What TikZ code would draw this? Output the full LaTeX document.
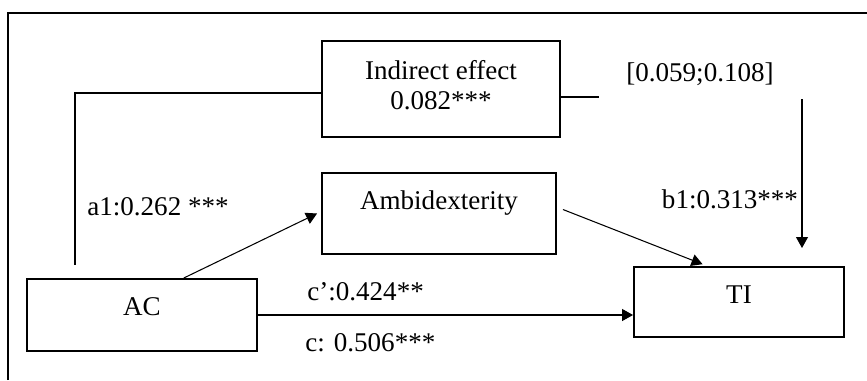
\documentclass[tikz,border=0pt]{standalone}
\usepackage{fontspec}
\setmainfont{Liberation Serif}
\usetikzlibrary{arrows.meta, calc}

\begin{document}
\begin{tikzpicture}[x=0.02cm,y=-0.02cm,
  every node/.style={font=\fontsize{15.4}{17}\selectfont},
  box/.style={draw,line width=1.1pt,inner sep=0pt},
  link/.style={line width=0.6pt,-{Triangle[length=0.22cm,width=0.24cm]}},
  plain/.style={line width=0.6pt}]
  \useasboundingbox (0,0) rectangle (867,380);
  \draw[line width=1.2pt] (8,380) -- (8,13) -- (867,13);
  \path (441,89) node[box,minimum width=4.76cm,minimum height=1.92cm,
    label={[align=center,yshift=0.08cm]center:Indirect effect\\0.082***}] (ind) {}
  (439,213.5) node[box,minimum width=4.68cm,minimum height=1.62cm,
    label={[yshift=0.2cm]center:Ambidexterity}] (ambi) {}
  (142,315) node[box,minimum width=4.6cm,minimum height=1.44cm,
    label={[yshift=0.16cm]center:AC}] (ac) {}
  (739,302) node[box,minimum width=4.2cm,minimum height=1.4cm,
    label={[yshift=0.14cm]center:TI}] (ti) {};
  \path (87,207) node[anchor=west,inner sep=0pt] (a1) {a1:0.262 ***}
  (700,74) node[inner sep=0pt] (ci) {[0.059;0.108]}
  (730,199) node[inner sep=0pt] (b1) {b1:0.313***}
  (307,292) node[anchor=west,inner sep=0pt] (cp) {c’:0.424**}
  (305,343) node[anchor=west,inner sep=0pt] (c) {c: 0.506***};
  \coordinate (aend) at (75,265);
  \coordinate (ciend) at (599,97);
  \coordinate (btop) at (802,99);
  \coordinate (btip) at (802,248);
  % indirect path
  \draw[plain] ([yshift=-0.08cm]ind.west) -- ([yshift=-0.08cm]ind.west -| aend) -- (aend);
  \draw[plain] (ind.east |- ciend) -- (ciend);
  \draw[link] (btop) -- (btip);
  % direct paths
  \draw[link] ($(ac.north west)!0.68!(ac.north east)$) -- ([xshift=-0.08cm]ambi.west);
  \draw[link,shorten >=0.1cm] ([xshift=0.12cm,yshift=0.08cm]ambi.east) -- ($(ti.north west)!0.35!(ti.north east)$);
  \draw[link] (ac.east) -- (ac.east -| ti.west);
\end{tikzpicture}
\end{document}
